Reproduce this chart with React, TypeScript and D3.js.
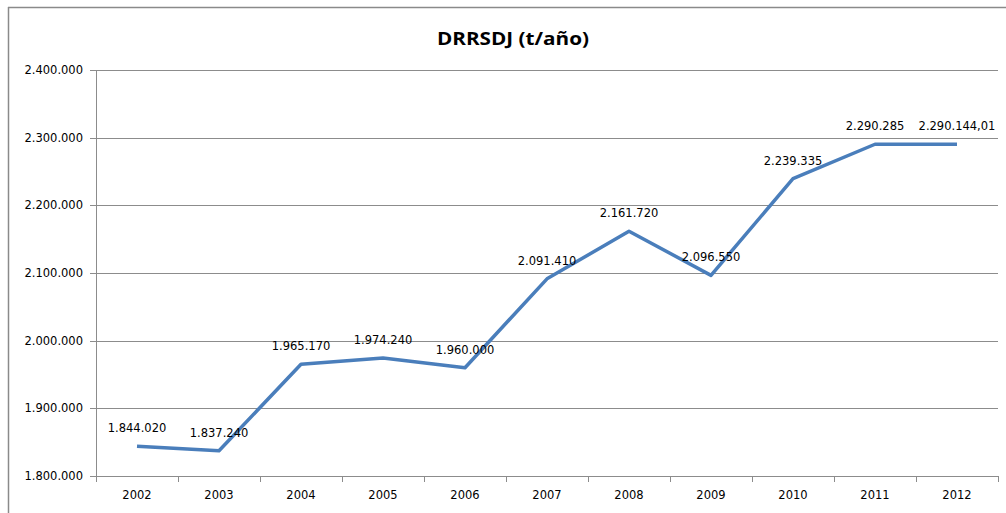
import React from "react";
import * as d3 from "d3";

const years = ["2002","2003","2004","2005","2006","2007","2008","2009","2010","2011","2012"];
const values = [1844020, 1837240, 1965170, 1974240, 1960000, 2091410, 2161720, 2096550, 2239335, 2290285, 2290144.01];
const valueLabels = ["1.844.020","1.837.240","1.965.170","1.974.240","1.960.000","2.091.410","2.161.720","2.096.550","2.239.335","2.290.285","2.290.144,01"];
const yTicks = [1800000, 1900000, 2000000, 2100000, 2200000, 2300000, 2400000];
const title = "DRRSDJ (t/año)";

const W = 1006, H = 513;
const left = 96, right = 998, top = 70, bottom = 476;

function fmt(v: number) {
  return d3.format(",")(v).replace(/,/g, ".");
}

export default function App() {
  const x = d3.scaleBand().domain(years).range([left, right]).padding(0);
  const y = d3.scaleLinear().domain([1800000, 2400000]).range([bottom, top]);
  const line = d3.line<number>()
    .x((_, i) => (x(years[i]) as number) + x.bandwidth() / 2)
    .y((d) => y(d));
  const font = "'DejaVu Sans', Verdana, sans-serif";
  const grid = "#8c8c8c";
  const boundaries = years.map((yr) => x(yr) as number).concat([right]);
  return (
    <svg width={W} height={H} style={{ position: "absolute", left: 0, top: 0, background: "#fff" }}>
      <rect x={0} y={0} width={W} height={H} fill="#fff" />
      {/* outer chart border */}
      <line x1={8} x2={W} y1={7.5} y2={7.5} stroke="#8a8a8a" strokeWidth={1.5} />
      <line x1={8.5} x2={8.5} y1={7} y2={H} stroke="#8a8a8a" strokeWidth={1.5} />
      <text x={513} y={45} textAnchor="middle" fontFamily="'Open Sans', 'Liberation Sans', sans-serif" fontWeight="bold" fontSize={18} textLength={152} lengthAdjust="spacingAndGlyphs" fill="#000">{title}</text>
      {/* gridlines */}
      {yTicks.map((t) => (
        <line key={"g" + t} x1={left} x2={right} y1={Math.round(y(t)) + 0.5} y2={Math.round(y(t)) + 0.5} stroke={grid} strokeWidth={1} />
      ))}
      {/* y axis */}
      <line x1={left + 0.5} x2={left + 0.5} y1={top} y2={bottom} stroke={grid} strokeWidth={1} />
      {yTicks.map((t) => (
        <g key={"t" + t}>
          <line x1={left - 6} x2={left} y1={Math.round(y(t)) + 0.5} y2={Math.round(y(t)) + 0.5} stroke={grid} />
          <text x={83} y={y(t) + 4} textAnchor="end" fontFamily={font} fontSize={11.5} fill="#000">{fmt(t)}</text>
        </g>
      ))}
      {/* x axis ticks */}
      {boundaries.map((b, i) => (
        <line key={"xt" + i} x1={Math.round(b) + 0.5} x2={Math.round(b) + 0.5} y1={bottom} y2={bottom + 6} stroke={grid} />
      ))}
      {years.map((yr) => (
        <text key={"xl" + yr} x={(x(yr) as number) + x.bandwidth() / 2} y={499} textAnchor="middle" fontFamily={font} fontSize={11.5} fill="#000">{yr}</text>
      ))}
      {/* line */}
      <path d={line(values) || ""} fill="none" stroke="#4A7EBB" strokeWidth={3.5} strokeLinejoin="round" />
      {values.map((v, i) => (
        <text key={"dl" + i} x={(x(years[i]) as number) + x.bandwidth() / 2} y={y(v) - 14} textAnchor="middle" fontFamily={font} fontSize={11.5} fill="#000">{valueLabels[i]}</text>
      ))}
    </svg>
  );
}
